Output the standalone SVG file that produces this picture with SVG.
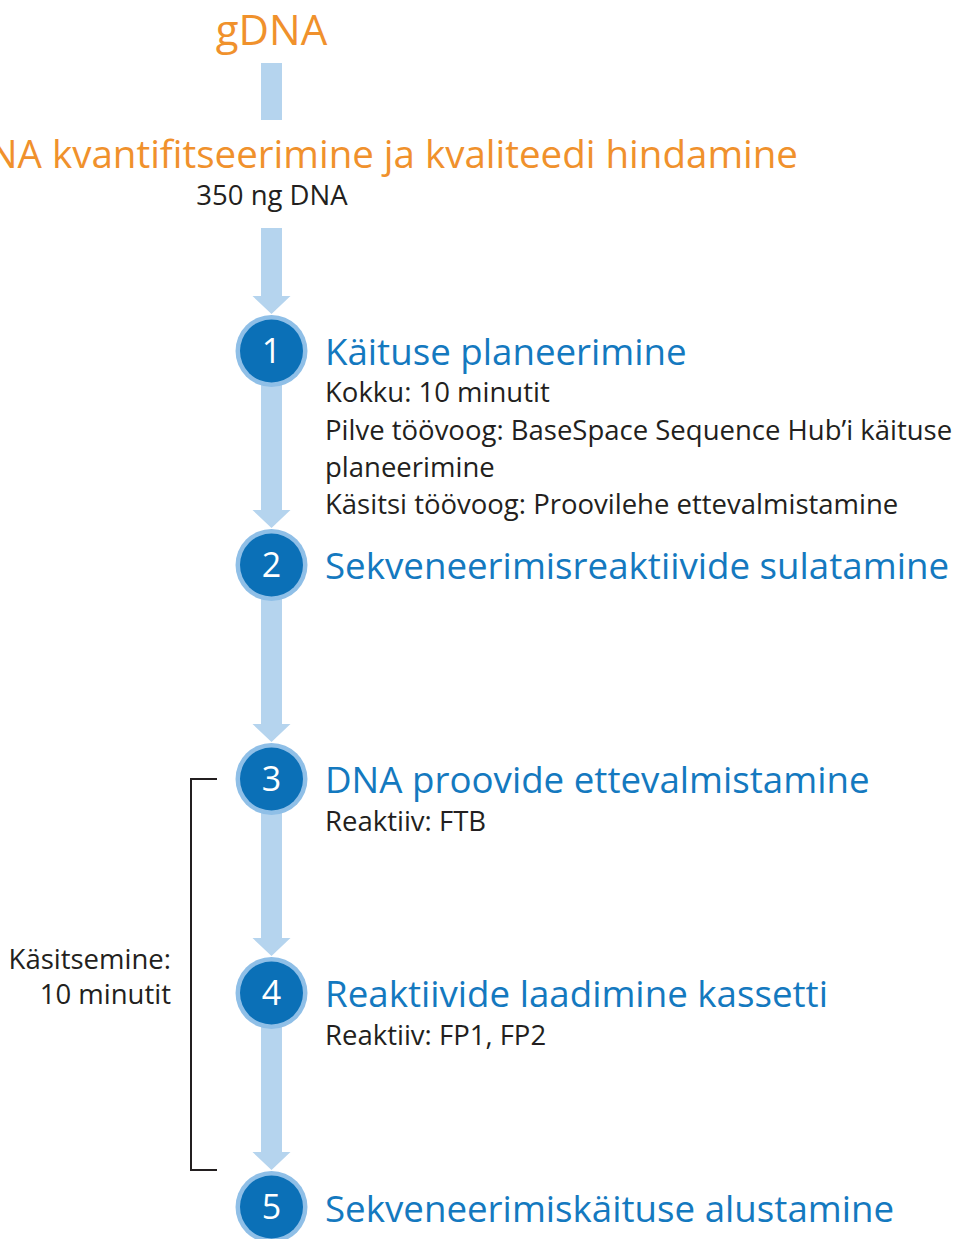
<svg xmlns="http://www.w3.org/2000/svg" width="960" height="1239" viewBox="0 0 960 1239">
<style>
.sans{font-family:"Open Sans","Liberation Sans",sans-serif}
.orange{fill:#f0912c}
.head{fill:#1479bf;font-size:36.7px}
.body{fill:#231f20;font-size:27.5px}
.num{fill:#ffffff;font-size:34px;text-anchor:middle}
.shaft{fill:#b5d4ee}
.ring{fill:#8fbfe7}
.core{fill:#0b70b7}
.bracket{fill:none;stroke:#231f20;stroke-width:2}
</style>
<rect width="960" height="1239" fill="#ffffff"/>
<g id="connectors">
  <rect class="shaft" x="261" y="63" width="21" height="57"/>
  <rect class="shaft" x="261" y="228" width="21" height="69"/>
  <polygon class="shaft" points="252.5,296 290.5,296 271.5,314"/>
  <rect class="shaft" x="261" y="351" width="21" height="160"/>
  <polygon class="shaft" points="252.5,510 290.5,510 271.5,528"/>
  <rect class="shaft" x="261" y="565" width="21" height="160"/>
  <polygon class="shaft" points="252.5,724 290.5,724 271.5,742"/>
  <rect class="shaft" x="261" y="779" width="21" height="160"/>
  <polygon class="shaft" points="252.5,938 290.5,938 271.5,956"/>
  <rect class="shaft" x="261" y="993" width="21" height="160"/>
  <polygon class="shaft" points="252.5,1152 290.5,1152 271.5,1170"/>
  <polyline class="bracket" points="217,779 191,779 191,1170 217,1170"/>
</g>
<g id="gdna"><text class="sans orange" x="271.5" y="45" font-size="42" text-anchor="middle">gDNA</text></g>
<g id="quant">
  <text class="sans orange" x="798" y="168" font-size="38.5" text-anchor="end">DNA kvantifitseerimine ja kvaliteedi hindamine</text>
  <text class="sans body" x="272" y="205" text-anchor="middle">350 ng DNA</text>
</g>
<g id="step1">
  <circle class="ring" cx="271.5" cy="351" r="36"/><circle class="core" cx="271.5" cy="351" r="31.5"/>
  <text class="sans num" x="271.5" y="363">1</text>
  <text class="sans head" x="325" y="365">Käituse planeerimine</text>
  <text class="sans body" x="325" y="402">Kokku: 10 minutit</text>
  <text class="sans body" x="325" y="440">Pilve töövoog: BaseSpace Sequence Hub’i käituse</text>
  <text class="sans body" x="325" y="477">planeerimine</text>
  <text class="sans body" x="325" y="514">Käsitsi töövoog: Proovilehe ettevalmistamine</text>
</g>
<g id="step2">
  <circle class="ring" cx="271.5" cy="565" r="36"/><circle class="core" cx="271.5" cy="565" r="31.5"/>
  <text class="sans num" x="271.5" y="577">2</text>
  <text class="sans head" x="325" y="579">Sekveneerimisreaktiivide sulatamine</text>
</g>
<g id="step3">
  <circle class="ring" cx="271.5" cy="779" r="36"/><circle class="core" cx="271.5" cy="779" r="31.5"/>
  <text class="sans num" x="271.5" y="791">3</text>
  <text class="sans head" x="325" y="793">DNA proovide ettevalmistamine</text>
  <text class="sans body" x="325" y="831">Reaktiiv: FTB</text>
</g>
<g id="step4">
  <circle class="ring" cx="271.5" cy="993" r="36"/><circle class="core" cx="271.5" cy="993" r="31.5"/>
  <text class="sans num" x="271.5" y="1005">4</text>
  <text class="sans head" x="325" y="1007">Reaktiivide laadimine kassetti</text>
  <text class="sans body" x="325" y="1045">Reaktiiv: FP1, FP2</text>
</g>
<g id="step5">
  <circle class="ring" cx="271.5" cy="1207" r="36"/><circle class="core" cx="271.5" cy="1207" r="31.5"/>
  <text class="sans num" x="271.5" y="1219">5</text>
  <text class="sans head" x="325" y="1222">Sekveneerimiskäituse alustamine</text>
</g>
<g id="handling">
  <text class="sans body" x="171" y="969" text-anchor="end">Käsitsemine:</text>
  <text class="sans body" x="171" y="1004" text-anchor="end">10 minutit</text>
</g>
</svg>
